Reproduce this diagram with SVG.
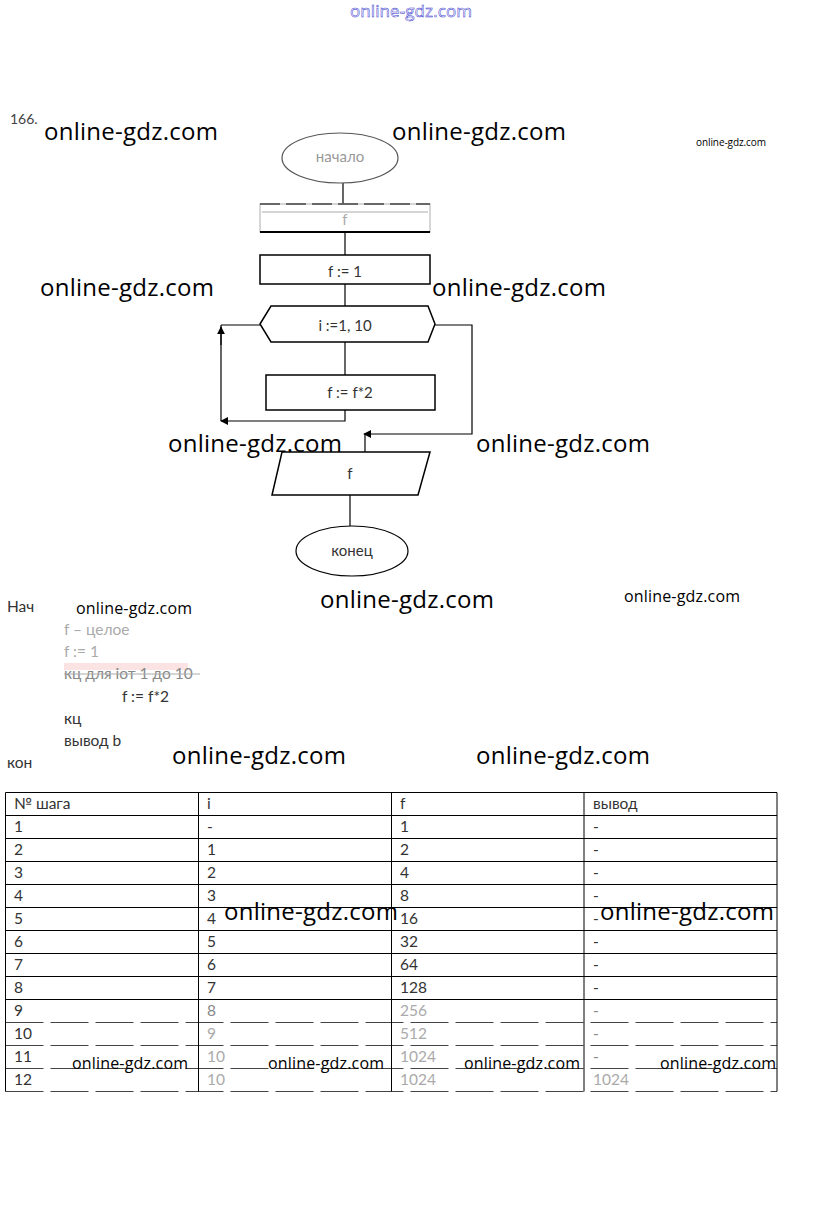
<svg xmlns="http://www.w3.org/2000/svg" width="823" height="1209" viewBox="0 0 823 1209">
<style>
.wm{font-family:"Open Sans","Liberation Sans",sans-serif;font-size:24px;fill:#000}
.wms{font-family:"Open Sans","Liberation Sans",sans-serif;font-size:16px;fill:#000}
.lbl{font-family:Lato,"Open Sans",sans-serif;font-size:15px;fill:#333;text-anchor:middle}
.code{font-family:Lato,"Open Sans",sans-serif;font-size:15.5px;fill:#333}
.cell{font-family:Lato,"Open Sans",sans-serif;font-size:15.5px;fill:#333}
.shape{fill:#fff;stroke:#000;stroke-width:1.5}
.con{fill:none;stroke:#000;stroke-width:1.2}
.grid{stroke:#000;stroke-width:1}
.gridf{stroke:#444;stroke-width:1;stroke-dasharray:38 7}
</style>
<defs>
<marker id="ah" viewBox="0 0 10 10" refX="9" refY="5" markerWidth="8" markerHeight="8" orient="auto" markerUnits="userSpaceOnUse">
<path d="M0,0 L10,5 L0,10 z" fill="#000"/>
</marker>
</defs>
<rect width="823" height="1209" fill="#fff"/>

<text x="411" y="17" font-family="Open Sans,Liberation Sans,sans-serif" font-size="17" fill="#fff" stroke="#33c" stroke-width="0.5" text-anchor="middle" textLength="122">online-gdz.com</text>
<text x="10" y="124" font-family="Lato,Open Sans,sans-serif" font-size="14" fill="#444">166.</text>

<g id="connectors">
<line class="con" x1="343" y1="183" x2="343" y2="204" stroke="#aaa"/>
<line class="con" x1="345" y1="232" x2="345" y2="255"/>
<line class="con" x1="345" y1="284" x2="345" y2="306"/>
<line class="con" x1="345" y1="342" x2="345" y2="375"/>
<polyline class="con" points="345,410 345,421 221,421" marker-end="url(#ah)"/>
<polyline class="con" points="221,421 221,325"/>
<line class="con" x1="221" y1="345" x2="221" y2="327" marker-end="url(#ah)"/>
<line class="con" x1="221" y1="325" x2="260" y2="325"/>
<polyline class="con" points="435,325 472,325 472,434 364,434" marker-end="url(#ah)"/>
<line class="con" x1="365" y1="434" x2="365" y2="452"/>
<line class="con" x1="350" y1="495" x2="350" y2="526"/>
</g>

<g id="start">
<ellipse cx="340" cy="158" rx="58" ry="25" fill="#fff" stroke="#555" stroke-width="1.2"/>
<text class="lbl" x="340" y="162" style="fill:#999">начало</text>
</g>
<g id="decl">
<rect x="260" y="204" width="170" height="28" fill="#fff" stroke="#bbb" stroke-width="1.2"/>
<line x1="260" y1="204" x2="430" y2="204" stroke="#444" stroke-width="1.5" stroke-dasharray="20 6"/>
<line x1="262" y1="212" x2="428" y2="212" stroke="#aaa" stroke-width="1"/>
<line x1="260" y1="232" x2="430" y2="232" stroke="#000" stroke-width="2"/>
<text class="lbl" x="345" y="225" style="fill:#aaa">f</text>
</g>
<g id="init">
<rect class="shape" x="260" y="255" width="170" height="29"/>
<text class="lbl" x="345" y="277">f := 1</text>
</g>
<g id="loop">
<polygon class="shape" points="260,324 271,306 428,306 435,324 428,342 271,342"/>
<text class="lbl" x="345" y="331">i :=1, 10</text>
</g>
<g id="body">
<rect class="shape" x="266" y="375" width="169" height="35"/>
<text class="lbl" x="350" y="398">f := f*2</text>
</g>
<g id="output">
<polygon class="shape" points="282,452 430,452 418,495 272,495" stroke-width="1.2"/>
<text class="lbl" x="350" y="479">f</text>
</g>
<g id="end">
<ellipse cx="352" cy="551" rx="56" ry="25" fill="#fff" stroke="#000" stroke-width="1.2"/>
<text class="lbl" x="352" y="556">конец</text>
</g>

<g id="code">
<text class="code" x="7" y="612">Нач</text>
<text class="code" x="64" y="635" style="fill:#aaa">f – целое</text>
<text class="code" x="64" y="657" style="fill:#aaa">f := 1</text>
<rect x="64" y="663" width="124" height="7" fill="#fbe3e3"/>
<text class="code" x="64" y="679" style="fill:#888">кц для iот 1 до 10</text>
<line x1="64" y1="674" x2="200" y2="674" stroke="#aaa" stroke-width="1"/>
<text class="code" x="122" y="702">f := f*2</text>
<text class="code" x="64" y="724">кц</text>
<text class="code" x="64" y="746">вывод b</text>
<text class="code" x="7" y="768">кон</text>
</g>

<g id="table">
<line class="grid" x1="5.5" y1="792.5" x2="777" y2="792.5"/>
<line class="grid" x1="5.5" y1="815.5" x2="777" y2="815.5"/>
<line class="grid" x1="5.5" y1="838.5" x2="777" y2="838.5"/>
<line class="grid" x1="5.5" y1="861.5" x2="777" y2="861.5"/>
<line class="grid" x1="5.5" y1="884.5" x2="777" y2="884.5"/>
<line class="grid" x1="5.5" y1="907.5" x2="777" y2="907.5"/>
<line class="grid" x1="5.5" y1="930.5" x2="777" y2="930.5"/>
<line class="grid" x1="5.5" y1="953.5" x2="777" y2="953.5"/>
<line class="grid" x1="5.5" y1="976.5" x2="777" y2="976.5"/>
<line class="grid" x1="5.5" y1="999.5" x2="777" y2="999.5"/>
<line class="gridf" x1="5.5" y1="1022.5" x2="777" y2="1022.5"/>
<line class="gridf" x1="5.5" y1="1045.5" x2="777" y2="1045.5"/>
<line class="gridf" x1="5.5" y1="1068.5" x2="777" y2="1068.5"/>
<line class="gridf" x1="5.5" y1="1091.5" x2="777" y2="1091.5"/>
<line class="grid" x1="5.5" y1="792.5" x2="5.5" y2="1091.5"/>
<line class="grid" x1="198.5" y1="792.5" x2="198.5" y2="1091.5"/>
<line class="grid" x1="391.5" y1="792.5" x2="391.5" y2="1091.5"/>
<line class="grid" x1="584" y1="792.5" x2="584" y2="1091.5"/>
<line class="grid" x1="777" y1="792.5" x2="777" y2="1091.5"/>

<text class="cell" x="14" y="809">№ шага</text>
<text class="cell" x="207" y="809">i</text>
<text class="cell" x="400" y="809">f</text>
<text class="cell" x="593" y="809">вывод</text>

<text class="cell" x="14" y="832">1</text><text class="cell" x="207" y="832">-</text><text class="cell" x="400" y="832">1</text><text class="cell" x="593" y="832">-</text>
<text class="cell" x="14" y="855">2</text><text class="cell" x="207" y="855">1</text><text class="cell" x="400" y="855">2</text><text class="cell" x="593" y="855">-</text>
<text class="cell" x="14" y="878">3</text><text class="cell" x="207" y="878">2</text><text class="cell" x="400" y="878">4</text><text class="cell" x="593" y="878">-</text>
<text class="cell" x="14" y="901">4</text><text class="cell" x="207" y="901">3</text><text class="cell" x="400" y="901">8</text><text class="cell" x="593" y="901">-</text>
<text class="cell" x="14" y="924">5</text><text class="cell" x="207" y="924">4</text><text class="cell" x="400" y="924">16</text><text class="cell" x="593" y="924">-</text>
<text class="cell" x="14" y="947">6</text><text class="cell" x="207" y="947">5</text><text class="cell" x="400" y="947">32</text><text class="cell" x="593" y="947">-</text>
<text class="cell" x="14" y="970">7</text><text class="cell" x="207" y="970">6</text><text class="cell" x="400" y="970">64</text><text class="cell" x="593" y="970">-</text>
<text class="cell" x="14" y="993">8</text><text class="cell" x="207" y="993">7</text><text class="cell" x="400" y="993">128</text><text class="cell" x="593" y="993">-</text>
<text class="cell" x="14" y="1016">9</text><text class="cell" x="207" y="1016" style="fill:#888">8</text><text class="cell" x="400" y="1016" style="fill:#aaa">256</text><text class="cell" x="593" y="1016" style="fill:#888">-</text>
<text class="cell" x="14" y="1039">10</text><text class="cell" x="207" y="1039" style="fill:#aaa">9</text><text class="cell" x="400" y="1039" style="fill:#aaa">512</text><text class="cell" x="593" y="1039" style="fill:#888">-</text>
<text class="cell" x="14" y="1062">11</text><text class="cell" x="207" y="1062" style="fill:#aaa">10</text><text class="cell" x="400" y="1062" style="fill:#aaa">1024</text><text class="cell" x="593" y="1062" style="fill:#888">-</text>
<text class="cell" x="14" y="1085">12</text><text class="cell" x="207" y="1085" style="fill:#aaa">10</text><text class="cell" x="400" y="1085" style="fill:#aaa">1024</text><text class="cell" x="593" y="1085" style="fill:#aaa">1024</text>
</g>

<g id="watermarks">
<text class="wm" x="44" y="140" textLength="174">online-gdz.com</text>
<text class="wm" x="392" y="140" textLength="174">online-gdz.com</text>
<text x="696" y="146" font-family="Open Sans,Liberation Sans,sans-serif" font-size="10" textLength="70">online-gdz.com</text>
<text class="wm" x="40" y="296" textLength="174">online-gdz.com</text>
<text class="wm" x="432" y="296" textLength="174">online-gdz.com</text>
<text class="wm" x="168" y="452" textLength="174">online-gdz.com</text>
<text class="wm" x="476" y="452" textLength="174">online-gdz.com</text>
<text class="wm" x="320" y="608" textLength="174">online-gdz.com</text>
<text class="wms" x="76" y="614" textLength="116">online-gdz.com</text>
<text class="wms" x="624" y="602" textLength="116">online-gdz.com</text>
<text class="wm" x="172" y="764" textLength="174">online-gdz.com</text>
<text class="wm" x="476" y="764" textLength="174">online-gdz.com</text>
<text class="wm" x="224" y="920" textLength="174">online-gdz.com</text>
<text class="wm" x="600" y="920" textLength="174">online-gdz.com</text>
<text class="wms" x="72" y="1069" textLength="116">online-gdz.com</text>
<text class="wms" x="268" y="1069" textLength="116">online-gdz.com</text>
<text class="wms" x="464" y="1069" textLength="116">online-gdz.com</text>
<text class="wms" x="660" y="1069" textLength="116">online-gdz.com</text>
</g>
</svg>
